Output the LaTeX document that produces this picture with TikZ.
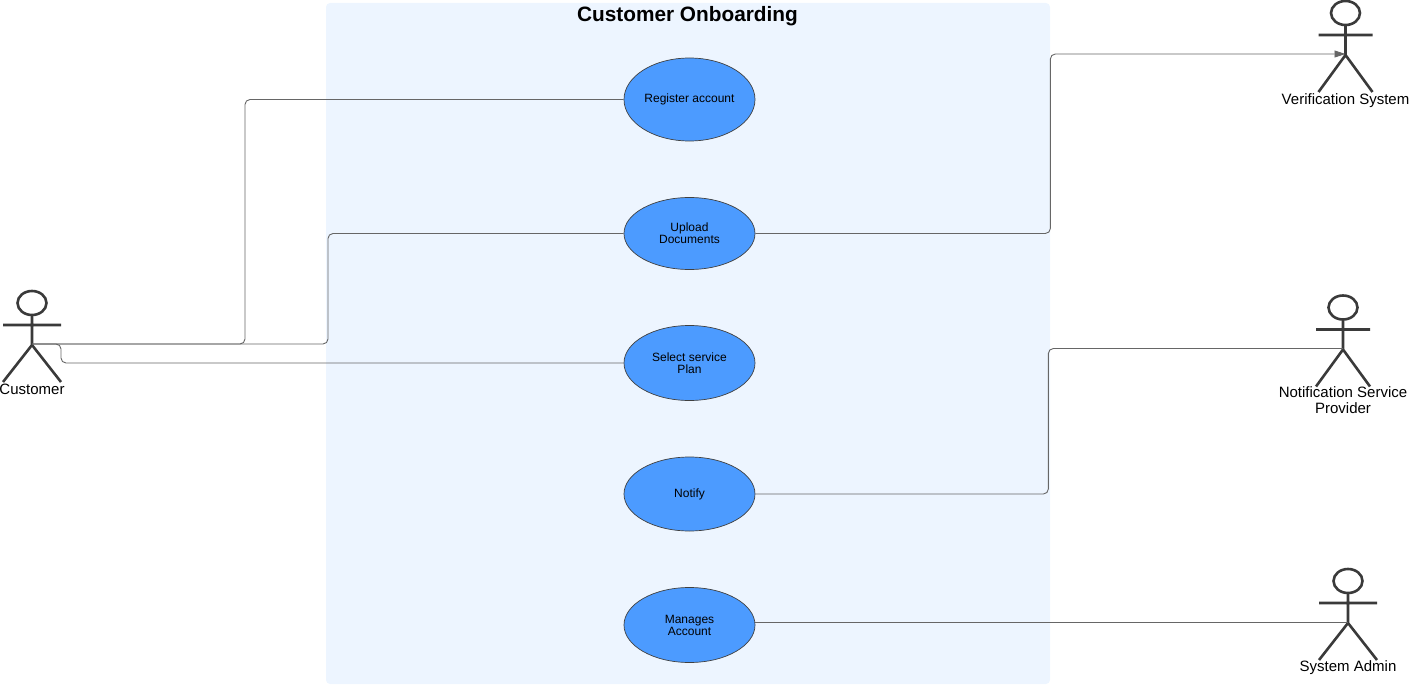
\documentclass[tikz,border=0pt]{standalone}
\usepackage{fontspec}
\setmainfont{Liberation Sans}
\usetikzlibrary{arrows.meta,shapes.geometric}
\definecolor{panelfill}{HTML}{EDF5FF}
\definecolor{casefill}{HTML}{4C9BFF}
\definecolor{actorline}{HTML}{3A3A3A}
\definecolor{linkline}{HTML}{666666}
\tikzset{
    usecase/.style={ellipse,draw=black!75,fill=casefill,line width=0.7pt,minimum width=131pt,inner sep=0pt,align=center,font=\fontsize{12}{12}\selectfont},
    actorname/.style={inner sep=0pt,align=center,font=\fontsize{15}{16}\selectfont},
    link/.style={linkline,line width=0.9pt,rounded corners=5pt},
    actor/.pic={
      \coordinate (-link) at (0,0);
      \draw[actorline,line width=2.6pt] (0,-29) -- (0,1) (-#1,-19) -- (#1,-19)
        (-#1,38) -- (0,1) -- (#1,38);
      \draw[actorline,line width=2.6pt] (0,-41) ellipse (14.5 and 12);
    }
}
\begin{document}
\begin{tikzpicture}[x=1pt,y=-1pt]
  \useasboundingbox (0,0) rectangle (1409,685);
  % Boundary
  \node[fill=panelfill,rounded corners=4pt,minimum width=724pt,minimum height=681pt,inner sep=0pt] (panel) at (688,343.5) {};
  \node[font=\fontsize{20.8}{22}\selectfont\bfseries,inner sep=0pt] (title) at (687.5,16) {Customer Onboarding};

  % Use cases
  \node[usecase,minimum height=83pt] (register) at (689.5,99.5) {Register account};
  \node[usecase,minimum height=72pt] (upload) at (689.5,233.5) {Upload\\Documents};
  \node[usecase,minimum height=75pt] (select) at (689.5,363) {Select service\\Plan};
  \node[usecase,minimum height=74pt] (notify) at (689.5,494) {Notify};
  \node[usecase,minimum height=75pt] (manages) at (689.5,625) {Manages\\Account};

  % Actors
  \pic (customer) at (32,344) {actor=29};
  \node[actorname] (customername) at (32,389) {Customer};
  \pic (verifier) at (1345.5,54) {actor=27};
  \node[actorname] (verifiername) at (1345.5,100.5) {Verification System};
  \pic (notifier) at (1343,348.5) {actor=27};
  \node[actorname] (notifiername) at (1343,400.5) {Notification Service\\Provider};
  \pic (admin) at (1348,622) {actor=29};
  \node[actorname] (adminname) at (1348,667.5) {System Admin};

  % Connectors
  \draw[link] (customer-link) -- ++(213,0) |- (register.west);
  \draw[link] (customer-link) -- ++(296,0) |- (upload.west);
  \draw[link] (customer-link) -- ++(29,0) |- (select.west);
  \draw[link,-{Stealth[length=11pt,width=7pt,inset=0pt]}] (upload.east) -- ++(295,0) |- (verifier-link);
  \draw[link] (notify.east) -- ++(293,0) |- (notifier-link);
  \draw[link] (manages.east |- admin-link) -- (admin-link);
\end{tikzpicture}
\end{document}
